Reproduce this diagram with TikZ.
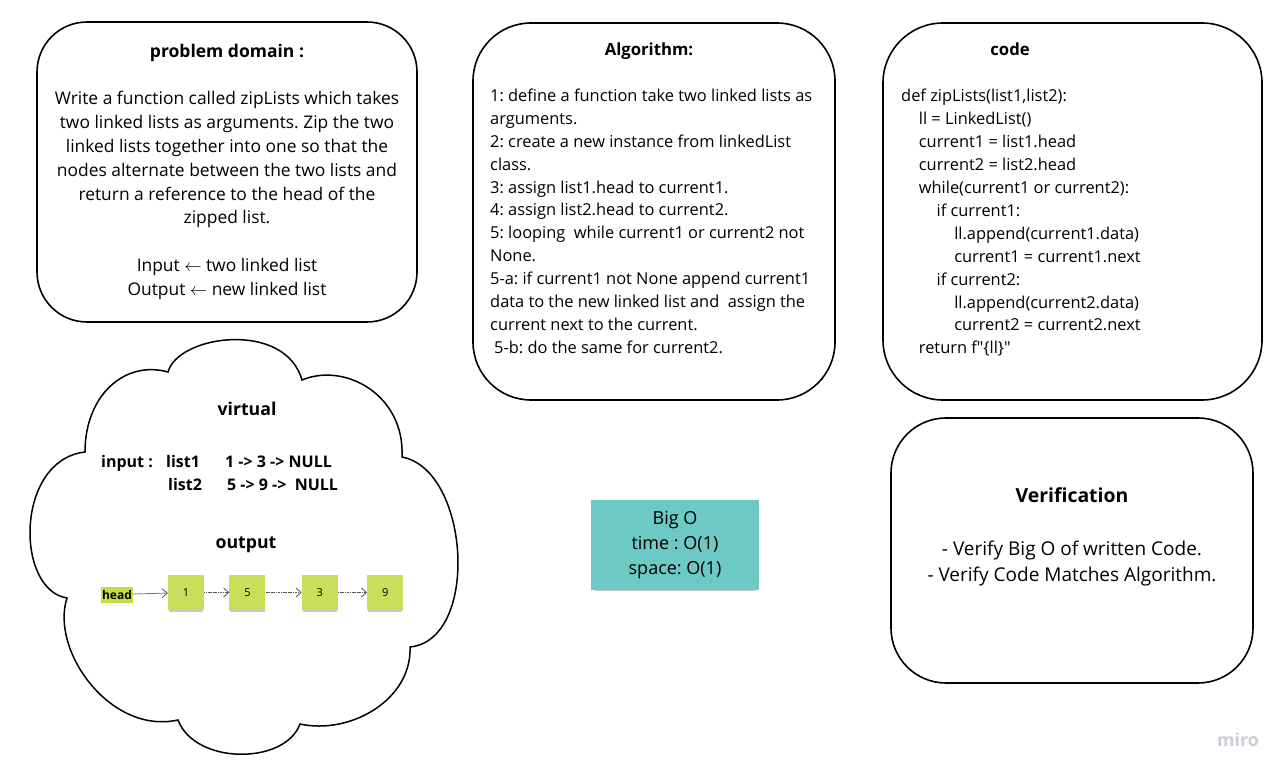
\documentclass[tikz,border=0pt]{standalone}
\usepackage{fontspec}
\setmainfont{Open Sans}
\usetikzlibrary{arrows.meta,positioning,shadows}
\definecolor{stickyteal}{HTML}{6CC9C3}
\definecolor{stickylime}{HTML}{C9DE5A}
\definecolor{headlime}{HTML}{C3DF45}
\definecolor{linkgray}{HTML}{555555}
\definecolor{mirogray}{HTML}{CDCDD8}
\frenchspacing

\begin{document}
\begin{tikzpicture}[
  x=1pt, y=-1pt,
  panel/.style={rectangle, draw, line width=1.6pt, rounded corners=#1},
  panel/.default=55pt,
  body/.style={font=\fontsize{16.4}{23}\selectfont, inner sep=0pt},
  heading/.style={font=\fontsize{16.7}{20}\selectfont\bfseries, inner sep=0pt, anchor=base},
  sticky/.style={rectangle, fill=#1, inner sep=0pt,
    drop shadow={shadow xshift=0pt, shadow yshift=-3pt, shadow scale=0.95,
      opacity=0.22, fill=black}},
  listnode/.style={sticky=stickylime, minimum width=36pt, minimum height=35pt,
    font=\fontsize{11}{13}\selectfont},
  link/.style={-{Straight Barb[length=5pt,width=9pt]}, draw=linkgray,
    line width=0.8pt, dash pattern=on 1.2pt off 0.5pt},
]
  \fill[white] (0,0) rectangle (1288,775);
  \useasboundingbox (0,0) rectangle (1288,775);

  % panels
  \node[panel=50pt, minimum width=380pt, minimum height=300pt] (domain) at (227,172) {};
  \node[panel=58pt, minimum width=362pt, minimum height=377pt] (algo) at (654,211.5) {};
  \node[panel=60pt, minimum width=379pt, minimum height=377pt] (code) at (1072.5,211.5) {};
  \node[panel=55pt, minimum width=362pt, minimum height=265pt] (verify) at (1072,550.5) {};

  % problem domain
  \node[heading, font=\fontsize{17.5}{20}\selectfont\bfseries] (domain-title) at (227,57.5) {problem domain :};
  \foreach \txt [count=\i] in {
    {Write a function called zipLists which takes},
    {two linked lists as arguments. Zip the two},
    {linked lists together into one so that the},
    {nodes alternate between the two lists and},
    {return a reference to the head of the},
    {zipped list.}}
    \node[body, anchor=base, font=\fontsize{17.4}{24}\selectfont] (domain-\i) at (227,{104.5+23.9*(\i-1)}) {\txt};
  \node[body, anchor=base, font=\fontsize{17.4}{24}\selectfont] (domain-in) at (227,271.8) {Input $\leftarrow$ two linked list};
  \node[body, anchor=base, font=\fontsize{17.4}{24}\selectfont] (domain-out) at (227,295.7) {Output $\leftarrow$ new linked list};

  % algorithm
  \node[heading] (algo-title) at (649,55.5) {Algorithm:};
  \foreach \txt [count=\i] in {
    {1: define a function take two linked lists as},
    {arguments.},
    {2: create a new instance from linkedList},
    {class.},
    {3: assign list1.head to current1.},
    {4: assign list2.head to current2.},
    {5: looping\ \ while current1 or current2 not},
    {None.},
    {5-a: if current1 not None append current1},
    {data to the new linked list and\ \ assign the},
    {current next to the current.},
    {\hspace{4pt}5-b: do the same for current2.}}
    \node[body, anchor=base west] (algo-\i) at (490,{101.5+22.9*(\i-1)}) {\txt};

  % code
  \node[heading] (code-title) at (1010,55.5) {code};
  \foreach \lvl/\txt [count=\i] in {
    0/{def zipLists(list1,list2):},
    1/{ll = LinkedList()},
    1/{current1 = list1.head},
    1/{current2 = list2.head},
    1/{while(current1 or current2):},
    2/{if current1:},
    3/{ll.append(current1.data)},
    3/{current1 = current1.next},
    2/{if current2:},
    3/{ll.append(current2.data)},
    3/{current2 = current2.next},
    1/{return f\textquotedbl\{ll\}\textquotedbl}}
    \node[body, anchor=base west] (code-\i) at ({901+17.7*\lvl},{102+22.9*(\i-1)}) {\txt};

  % verification
  \node[heading, font=\fontsize{19.4}{22}\selectfont\bfseries] (verify-title) at (1072,502.5) {Verification};
  \node[body, anchor=base, font=\fontsize{19}{22}\selectfont] (verify-1) at (1072,555) {- Verify Big O of written Code.};
  \node[body, anchor=base, font=\fontsize{19}{22}\selectfont] (verify-2) at (1072,581) {- Verify Code Matches Algorithm.};

  % big O note
  \node[sticky=stickyteal, minimum width=168pt, minimum height=90pt, align=center,
    font=\fontsize{18}{25}\selectfont] (bigo) at (675,545)
    {Big O\\time : O(1)\\space: O(1)};

  % virtual cloud
  \draw[line width=1.5pt, fill=white]
    (168,372) .. controls (178,335) and (285,320) .. (302,380)
    .. controls (345,362) and (405,395) .. (402,457)
    .. controls (470,470) and (480,640) .. (410,647)
    .. controls (412,700) and (350,735) .. (300,724)
    .. controls (285,765) and (195,765) .. (178,720)
    .. controls (110,735) and (50,650) .. (67,598)
    .. controls (15,590) and (15,460) .. (85,452)
    .. controls (85,395) and (125,360) .. (168,372) -- cycle;

  \node[heading, font=\fontsize{17.7}{20}\selectfont\bfseries] (virtual-title) at (247,416) {virtual};
  \node[heading, anchor=base west, font=\fontsize{16}{20}\selectfont\bfseries] (input-lbl) at (101,467.5) {input :};
  \node[heading, anchor=base west, font=\fontsize{16}{20}\selectfont\bfseries] (list1-lbl) at (166,467.5) {list1};
  \node[heading, anchor=base west, font=\fontsize{16}{20}\selectfont\bfseries] (list1-val) at (225,467.5) {1 -> 3 -> NULL};
  \node[heading, anchor=base west, font=\fontsize{16}{20}\selectfont\bfseries] (list2-lbl) at (168,490.5) {list2};
  \node[heading, anchor=base west, font=\fontsize{16}{20}\selectfont\bfseries] (list2-val) at (227,490.5) {5 -> 9 ->\ \ NULL};
  \node[heading, font=\fontsize{17.7}{20}\selectfont\bfseries] (output-title) at (246,548) {output};

  % zipped list
  \node[fill=headlime, inner sep=1pt, minimum width=32pt, minimum height=16pt,
    font=\fontsize{12}{14}\selectfont\bfseries] (head) at (117,594.5) {head};
  \node[listnode] (one) at (186,592.5) {1};
  \node[listnode, right=25pt of one] (five) {5};
  \node[listnode, right=36pt of five] (three) {3};
  \node[listnode, right=29pt of three] (nine) {9};

  \draw[link] (head) -- (one);
  \draw[link] (one) -- (five);
  \draw[link] (five) -- (three);
  \draw[link] (three) -- (nine);

  \node[font=\fontsize{17.8}{20}\selectfont\bfseries, text=mirogray] (miro) at (1238,740) {miro};
\end{tikzpicture}
\end{document}
